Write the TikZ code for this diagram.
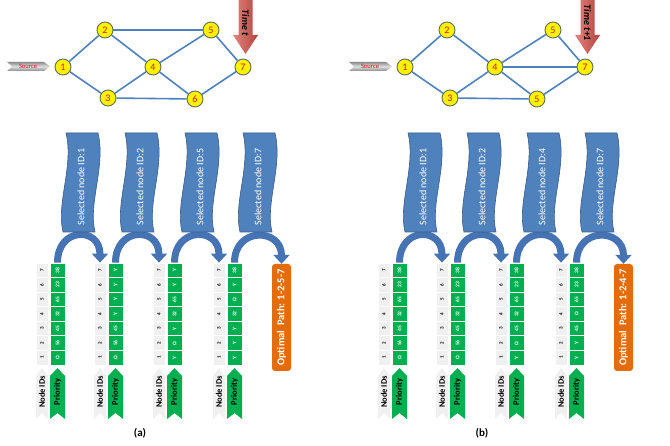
\documentclass[tikz,border=0pt]{standalone}
\usepackage{fontspec}
\setmainfont{Carlito}
\usetikzlibrary{arrows.meta}
\definecolor{edgeblue}{RGB}{79,129,189}
\definecolor{darkblue}{RGB}{56,93,138}
\definecolor{ribbon}{RGB}{70,115,180}
\definecolor{cellgreen}{RGB}{0,176,80}
\definecolor{idgray}{RGB}{240,240,240}
\definecolor{optorange}{RGB}{228,108,10}
\definecolor{numred}{RGB}{228,20,20}
\definecolor{ringcol}{RGB}{95,110,85}
\definecolor{timered}{RGB}{214,78,72}
\definecolor{srcgray}{RGB}{140,140,140}

\tikzset{
 gnode/.style={circle, fill=yellow, draw=ringcol, line width=0.9pt, minimum size=16pt, inner sep=0pt, text=numred, font=\fontsize{10}{10}\selectfont},
 gedge/.style={draw=edgeblue, line width=1.6pt},
 idcell/.style={rotate=90, fill=idgray, draw=white, line width=0.8pt, minimum width=14.57pt, minimum height=12pt, inner sep=0pt, font=\bfseries\fontsize{5}{5}\selectfont},
 pricell/.style={rotate=90, fill=cellgreen, draw=white, line width=0.8pt, minimum width=14.57pt, minimum height=15pt, inner sep=0pt, text=white, font=\bfseries\fontsize{5.5}{5.5}\selectfont},
 scrolltext/.style={rotate=90, text=white, font=\fontsize{10}{10}\selectfont, inner sep=0pt},
 ribbonarrow/.style={draw=ribbon, line width=7pt, -{Triangle[length=9pt,width=16pt]}},
 optbox/.style={rotate=90, fill=optorange, rounded corners=3pt, minimum width=107pt, minimum height=19pt, inner sep=0pt, text=white, font=\bfseries\fontsize{10.5}{10.5}\selectfont},
 collabel/.style={rotate=90, inner sep=0pt, font=\bfseries\fontsize{8.5}{8.5}\selectfont},
 timetext/.style={rotate=-90, inner sep=0pt, font=\bfseries\itshape\fontsize{10}{10}\selectfont},
 srctext/.style={text=numred, inner sep=0pt, font=\fontsize{6.5}{6.5}\selectfont},
 panellabel/.style={font=\bfseries\fontsize{11}{11}\selectfont}
}

\newcommand{\mytable}[3]{%
  \foreach \v [count=\i] in {#3} {
    \node[idcell] (#1I\i) at (#2+6, {365-(\i-0.5)*14.57}) {\i};
    \node[pricell] (#1P\i) at (#2+21.5, {365-(\i-0.5)*14.57}) {\v};
  }
  \fill[idgray] (#2,376) -- (#2+6,368) -- (#2+12,376) -- (#2+12,419) -- (#2+6,413) -- (#2,419) -- cycle;
  \node[collabel] (#1NL) at (#2+6,392) {Node IDs};
  \fill[cellgreen] (#2+14,376) -- (#2+21.5,368) -- (#2+29,376) -- (#2+29,419) -- (#2+21.5,413) -- (#2+14,419) -- cycle;
  \node[collabel] (#1PL) at (#2+21.5,392) {Priority};
}

\newcommand{\myscroll}[3]{%
  \filldraw[fill=edgeblue, draw=darkblue, line width=0.6pt] (#2+4,133) -- (#2+36,133)
    .. controls (#2+44,166) and (#2+26,203) .. (#2+33,232) -- (#2+1,232)
    .. controls (#2-6,203) and (#2+12,166) .. (#2+4,133) -- cycle;
  \node[scrolltext] (#1) at (#2+19,187) {#3};
}

\begin{document}
\begin{tikzpicture}[x=1pt,y=-1pt]
\path[use as bounding box] (0,0) rectangle (670,446);

\foreach \p/\dx/\six/\timetxt in {a/0/6/{Time t}, b/342/5/{Time t+1}}{
\begin{scope}[xshift=\dx]
  % source arrow
  \path[top color=srcgray, bottom color=srcgray, middle color=gray!25]
    (7,62) -- (44,62) -- (50,66.5) -- (44,71) -- (7,71) -- (12,66.5) -- cycle;
  \node[srctext] (\p src) at (28,66.5) {Source};
  % time arrow
  \path[left color=timered!70!white, right color=timered!85!black]
    (238.5,0) -- (252.5,0) -- (252.5,35) -- (258,35) -- (245.5,54) -- (233,35) -- (238.5,35) -- cycle;
  \node[timetext] (\p time) at (245.5,23) {\timetxt};
  % graph nodes
  \node[gnode] (\p1) at (63,67) {1};
  \node[gnode] (\p2) at (105,30) {2};
  \node[gnode] (\p3) at (108,98) {3};
  \node[gnode] (\p4) at (153,67) {4};
  \node[gnode] (\p5) at (211,30) {5};
  \node[gnode] (\p6) at (195,99) {\six};
  \node[gnode] (\p7) at (243,67) {7};
  % panel label
  \node[panellabel] (\p lab) at (140,433) {(\p)};
\end{scope}}

% edges
\foreach \u/\w in {1/2,1/3,2/5,2/4,3/4,3/6,4/5,4/6,5/7,6/7}
  \draw[gedge] (a\u) -- (a\w);
\foreach \u/\w in {1/2,1/3,2/4,3/4,3/6,4/5,4/7,4/6,5/7,6/7}
  \draw[gedge] (b\u) -- (b\w);

% tables
\mytable{aT1}{36}{Ω,56,45,32,65,23,38}
\mytable{aT2}{94}{Ω,56,45,Y,Y,Y,Y}
\mytable{aT3}{153}{Y,Ω,Y,32,65,Y,Y}
\mytable{aT4}{213}{Y,Y,Y,32,Ω,Y,38}
\mytable{bT1}{378}{Ω,56,45,32,65,23,38}
\mytable{bT2}{436}{Ω,56,45,32,65,23,38}
\mytable{bT3}{495}{Y,Ω,45,32,65,23,38}
\mytable{bT4}{555}{Y,Y,45,Ω,65,23,38}

% optimal path boxes
\node[optbox] (aOpt) at (281.5,317.5) {Optimal\ \ Path: 1-2-5-7};
\node[optbox] (bOpt) at (623.5,317.5) {Optimal\ \ Path: 1-2-4-7};

% ribbon arrows
\draw[ribbonarrow] (aT1P7.east) .. controls +(0,-36) and +(0,-36) .. (aT2I7.east);
\draw[ribbonarrow] (aT2P7.east) .. controls +(0,-36) and +(0,-36) .. (aT3I7.east);
\draw[ribbonarrow] (aT3P7.east) .. controls +(0,-36) and +(0,-36) .. (aT4I7.east);
\draw[ribbonarrow] (aT4P7.east) .. controls +(0,-36) and +(0,-36) .. (aOpt.east);
\draw[ribbonarrow] (bT1P7.east) .. controls +(0,-36) and +(0,-36) .. (bT2I7.east);
\draw[ribbonarrow] (bT2P7.east) .. controls +(0,-36) and +(0,-36) .. (bT3I7.east);
\draw[ribbonarrow] (bT3P7.east) .. controls +(0,-36) and +(0,-36) .. (bT4I7.east);
\draw[ribbonarrow] (bT4P7.east) .. controls +(0,-36) and +(0,-36) .. (bOpt.east);

% scrolls
\myscroll{aS1}{62}{Selected node ID:1}
\myscroll{aS2}{121}{Selected node ID:2}
\myscroll{aS3}{181}{Selected node ID:5}
\myscroll{aS4}{239}{Selected node ID:7}
\myscroll{bS1}{404}{Selected node ID:1}
\myscroll{bS2}{463}{Selected node ID:2}
\myscroll{bS3}{523}{Selected node ID:4}
\myscroll{bS4}{581}{Selected node ID:7}
\end{tikzpicture}
\end{document}
